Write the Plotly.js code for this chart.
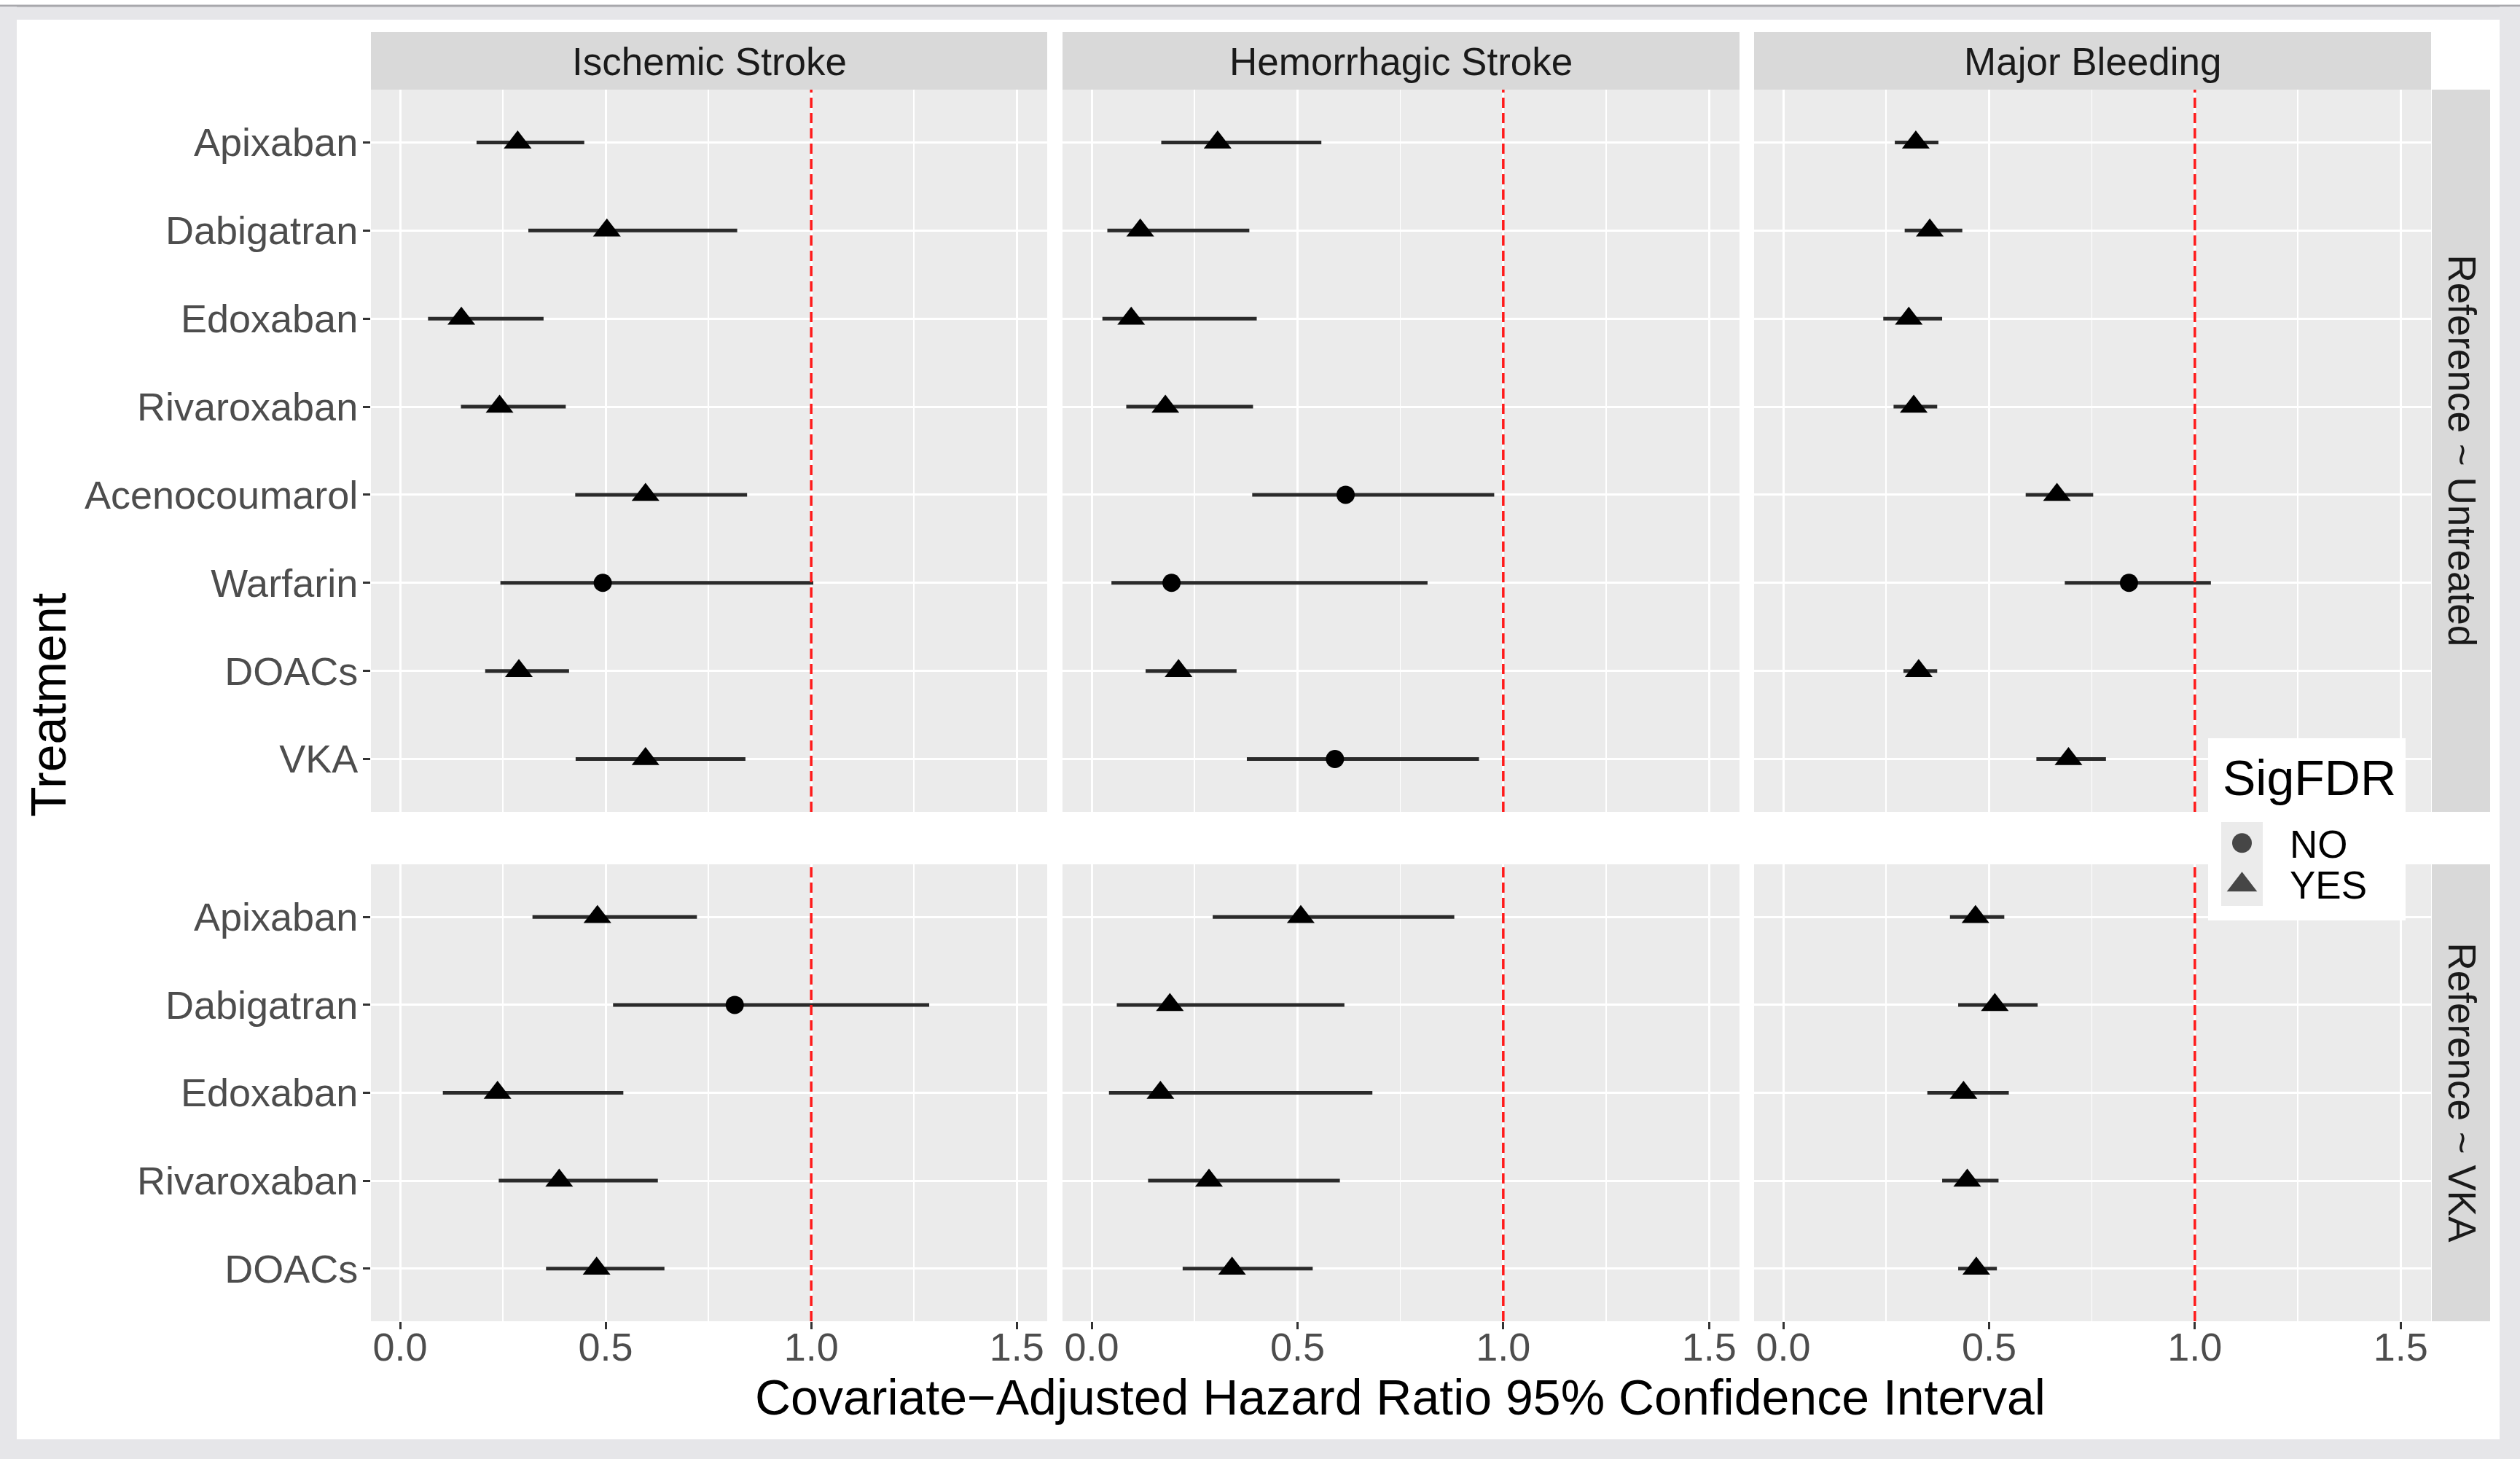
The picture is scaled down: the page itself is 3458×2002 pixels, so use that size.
<!DOCTYPE html>
<html><head><meta charset="utf-8">
<script src="https://cdn.plot.ly/plotly-3.0.1.min.js"></script>
<style>html,body{margin:0;padding:0;background:#fff;}#chart{width:3458px;height:2002px;}</style>
</head><body><div id="chart"></div>
<script>
// ---------- DATA ----------
const outcomes = ['Ischemic Stroke', 'Hemorrhagic Stroke', 'Major Bleeding'];
const references = ['Reference ~ Untreated', 'Reference ~ VKA'];
const drugsUntreated = ['Apixaban', 'Dabigatran', 'Edoxaban', 'Rivaroxaban', 'Acenocoumarol', 'Warfarin', 'DOACs', 'VKA'];
const drugsVKA = ['Apixaban', 'Dabigatran', 'Edoxaban', 'Rivaroxaban', 'DOACs'];
const sigLevels = ['NO', 'YES'];
const refLineValue = 1.0;
const xTickLabels = ['0.0', '0.5', '1.0', '1.5'];

// Reference ~ Untreated
const hrUntrIschemic  = [0.286, 0.503, 0.149, 0.242, 0.597, 0.493, 0.289, 0.597];
const loUntrIschemic  = [0.186, 0.312, 0.068, 0.148, 0.426, 0.244, 0.207, 0.427];
const hiUntrIschemic  = [0.448, 0.820, 0.349, 0.403, 0.844, 1.005, 0.411, 0.840];
const sigUntrIschemic = ['YES', 'YES', 'YES', 'YES', 'YES', 'NO', 'YES', 'YES'];

const hrUntrHemorrhagic  = [0.306, 0.118, 0.096, 0.179, 0.617, 0.194, 0.211, 0.591];
const loUntrHemorrhagic  = [0.169, 0.038, 0.026, 0.084, 0.390, 0.048, 0.131, 0.377];
const hiUntrHemorrhagic  = [0.558, 0.383, 0.401, 0.392, 0.978, 0.816, 0.352, 0.941];
const sigUntrHemorrhagic = ['YES', 'YES', 'YES', 'YES', 'NO', 'NO', 'YES', 'NO'];

const hrUntrBleeding  = [0.322, 0.356, 0.305, 0.317, 0.665, 0.840, 0.329, 0.693];
const loUntrBleeding  = [0.271, 0.295, 0.243, 0.268, 0.589, 0.684, 0.292, 0.615];
const hiUntrBleeding  = [0.377, 0.435, 0.386, 0.374, 0.753, 1.039, 0.374, 0.784];
const sigUntrBleeding = ['YES', 'YES', 'YES', 'YES', 'YES', 'NO', 'YES', 'YES'];

// Reference ~ VKA
const hrVkaIschemic  = [0.480, 0.814, 0.237, 0.387, 0.478];
const loVkaIschemic  = [0.322, 0.518, 0.104, 0.240, 0.355];
const hiVkaIschemic  = [0.722, 1.287, 0.543, 0.627, 0.643];
const sigVkaIschemic = ['YES', 'NO', 'YES', 'YES', 'YES'];

const hrVkaHemorrhagic  = [0.508, 0.190, 0.167, 0.285, 0.341];
const loVkaHemorrhagic  = [0.294, 0.061, 0.042, 0.137, 0.221];
const hiVkaHemorrhagic  = [0.881, 0.614, 0.682, 0.603, 0.537];
const sigVkaHemorrhagic = ['YES', 'YES', 'YES', 'YES', 'YES'];

const hrVkaBleeding  = [0.467, 0.514, 0.438, 0.447, 0.469];
const loVkaBleeding  = [0.405, 0.425, 0.350, 0.386, 0.425];
const hiVkaBleeding  = [0.537, 0.618, 0.548, 0.523, 0.519];
const sigVkaBleeding = ['YES', 'YES', 'YES', 'YES', 'YES'];

// ---------- LAYOUT HELPERS ----------
const W = 3458, H = 2002;
const px = v => v / W;
const py = v => 1 - v / H;
const FONT = 'Liberation Sans, Arial, Helvetica, sans-serif';

const colX = [[509, 1437], [1458, 2387], [2407, 3336]];
const rowY = [[123, 1114], [1186, 1813]];

const panels = [
  {row: 0, col: 0, drugs: drugsUntreated, hr: hrUntrIschemic, lo: loUntrIschemic, hi: hiUntrIschemic, sig: sigUntrIschemic},
  {row: 0, col: 1, drugs: drugsUntreated, hr: hrUntrHemorrhagic, lo: loUntrHemorrhagic, hi: hiUntrHemorrhagic, sig: sigUntrHemorrhagic},
  {row: 0, col: 2, drugs: drugsUntreated, hr: hrUntrBleeding, lo: loUntrBleeding, hi: hiUntrBleeding, sig: sigUntrBleeding},
  {row: 1, col: 0, drugs: drugsVKA, hr: hrVkaIschemic, lo: loVkaIschemic, hi: hiVkaIschemic, sig: sigVkaIschemic},
  {row: 1, col: 1, drugs: drugsVKA, hr: hrVkaHemorrhagic, lo: loVkaHemorrhagic, hi: hiVkaHemorrhagic, sig: sigVkaHemorrhagic},
  {row: 1, col: 2, drugs: drugsVKA, hr: hrVkaBleeding, lo: loVkaBleeding, hi: hiVkaBleeding, sig: sigVkaBleeding}
];

const symbolFor = {NO: 'circle', YES: 'triangle-up'};
const sizeFor = {NO: 25, YES: 33};

const traces = [];
const layout = {
  width: W, height: H,
  margin: {l: 0, r: 0, t: 0, b: 0, pad: 0},
  paper_bgcolor: '#ffffff',
  plot_bgcolor: '#ebebeb',
  font: {family: FONT, color: '#4d4d4d', size: 54},
  showlegend: false,
  shapes: [],
  annotations: []
};

panels.forEach((p, i) => {
  const k = i + 1;
  const xa = 'x' + (k === 1 ? '' : k);
  const ya = 'y' + (k === 1 ? '' : k);
  sigLevels.forEach(level => {
    const idx = p.hr.map((_, j) => j).filter(j => p.sig[j] === level);
    traces.push({
      type: 'scatter', mode: 'markers',
      x: idx.map(j => p.hr[j]),
      y: idx.map(j => p.drugs[j]),
      xaxis: xa, yaxis: ya,
      name: level, showlegend: false,
      marker: {symbol: symbolFor[level], size: sizeFor[level], color: '#000000', line: {width: 0}},
      error_x: {
        type: 'data', symmetric: false,
        array: idx.map(j => p.hi[j] - p.hr[j]),
        arrayminus: idx.map(j => p.hr[j] - p.lo[j]),
        thickness: 5, width: 0, color: '#2a2a2a'
      },
      cliponaxis: false,
      hoverinfo: 'x+y'
    });
  });
  const bottom = p.row === 1;
  layout['xaxis' + (k === 1 ? '' : k)] = {
    domain: [px(colX[p.col][0]), px(colX[p.col][1])],
    anchor: ya,
    range: [-0.0709, 1.574],
    tickmode: 'array',
    tickvals: xTickLabels.map(Number),
    ticktext: xTickLabels,
    showgrid: true, gridcolor: '#ffffff', gridwidth: 3,
    minor: {tickmode: 'array', tickvals: [0.25, 0.75, 1.25], showgrid: true, gridcolor: '#ffffff', gridwidth: 1.5, ticks: ''},
    zeroline: false, showline: false,
    showticklabels: bottom,
    ticks: bottom ? 'outside' : '',
    ticklen: 10, tickwidth: 3, tickcolor: '#333333',
    ticklabelstandoff: -22,
    tickfont: {family: FONT, size: 54, color: '#4d4d4d'},
    fixedrange: true
  };
  const n = p.drugs.length;
  layout['yaxis' + (k === 1 ? '' : k)] = {
    domain: [py(rowY[p.row][1]), py(rowY[p.row][0])],
    anchor: xa,
    type: 'category',
    categoryorder: 'array',
    categoryarray: p.drugs,
    range: [n - 0.4, -0.6],
    showgrid: true, gridcolor: '#ffffff', gridwidth: 3,
    zeroline: false, showline: false,
    showticklabels: p.col === 0,
    ticks: p.col === 0 ? 'outside' : '',
    ticklen: 10, tickwidth: 3, tickcolor: '#333333',
    ticklabelstandoff: -4,
    tickfont: {family: FONT, size: 54, color: '#4d4d4d'},
    fixedrange: true
  };
  // reference line at HR = 1
  layout.shapes.push({
    type: 'line', xref: xa, yref: ya + ' domain',
    x0: refLineValue, x1: refLineValue, y0: 0, y1: 1,
    line: {color: '#ff1a1a', width: 3.5, dash: '14px,7px'}, layer: 'above'
  });
});

// ---------- outer frame ----------
const frameColor = '#e6e6e9';
layout.shapes.push(
  {type: 'rect', xref: 'paper', yref: 'paper', x0: 0, x1: 1, y0: py(27), y1: py(9), fillcolor: frameColor, line: {width: 0}, layer: 'below'},
  {type: 'line', xref: 'paper', yref: 'paper', x0: 0, x1: 1, y0: py(8), y1: py(8), line: {color: '#a8a8ac', width: 3}, layer: 'below'},
  {type: 'rect', xref: 'paper', yref: 'paper', x0: 0, x1: 1, y0: 0, y1: py(1975), fillcolor: frameColor, line: {width: 0}, layer: 'below'},
  {type: 'rect', xref: 'paper', yref: 'paper', x0: 0, x1: px(23), y0: 0, y1: py(9), fillcolor: frameColor, line: {width: 0}, layer: 'below'},
  {type: 'rect', xref: 'paper', yref: 'paper', x0: px(3430), x1: 1, y0: 0, y1: py(9), fillcolor: frameColor, line: {width: 0}, layer: 'below'}
);

// ---------- facet strips ----------
outcomes.forEach((o, c) => {
  layout.shapes.push({type: 'rect', xref: 'paper', yref: 'paper',
    x0: px(colX[c][0]), x1: px(colX[c][1]), y0: py(123), y1: py(44),
    fillcolor: '#d9d9d9', line: {width: 0}, layer: 'below'});
  layout.annotations.push({xref: 'paper', yref: 'paper', x: px((colX[c][0] + colX[c][1]) / 2), y: py(84),
    text: o, showarrow: false, xanchor: 'center', yanchor: 'middle',
    font: {family: FONT, size: 53, color: '#1a1a1a'}});
});
references.forEach((r, ri) => {
  layout.shapes.push({type: 'rect', xref: 'paper', yref: 'paper',
    x0: px(3337), x1: px(3417), y0: py(rowY[ri][1]), y1: py(rowY[ri][0]),
    fillcolor: '#d9d9d9', line: {width: 0}, layer: 'below'});
  layout.annotations.push({xref: 'paper', yref: 'paper', x: px(3378), y: py((rowY[ri][0] + rowY[ri][1]) / 2),
    text: r, showarrow: false, textangle: 90, xanchor: 'center', yanchor: 'middle',
    font: {family: FONT, size: 53, color: '#1a1a1a'}});
});

// ---------- axis titles ----------
layout.annotations.push({xref: 'paper', yref: 'paper', x: px(1922), y: py(1917),
  text: 'Covariate\u2212Adjusted Hazard Ratio 95% Confidence Interval', showarrow: false,
  xanchor: 'center', yanchor: 'middle', font: {family: FONT, size: 68, color: '#000000'}});
layout.annotations.push({xref: 'paper', yref: 'paper', x: px(66), y: py(968),
  text: 'Treatment', showarrow: false, textangle: -90,
  xanchor: 'center', yanchor: 'middle', font: {family: FONT, size: 68, color: '#000000'}});

// ---------- legend (SigFDR) ----------
layout.shapes.push({type: 'rect', xref: 'paper', yref: 'paper',
  x0: px(3030), x1: px(3301), y0: py(1263), y1: py(1013),
  fillcolor: '#ffffff', line: {width: 0}, layer: 'below'});
layout.xaxis7 = {domain: [px(3048), px(3105)], anchor: 'y7', range: [-1, 1], visible: false, fixedrange: true};
layout.yaxis7 = {domain: [py(1243), py(1128)], anchor: 'x7', type: 'category', categoryorder: 'array',
  categoryarray: sigLevels, range: [1.5, -0.5], visible: false, fixedrange: true};
traces.push({type: 'scatter', mode: 'markers', xaxis: 'x7', yaxis: 'y7',
  x: sigLevels.map(() => 0), y: sigLevels, showlegend: false, hoverinfo: 'y',
  marker: {symbol: sigLevels.map(s => symbolFor[s]), size: [27, 36], color: '#000000', line: {width: 0}}});
layout.annotations.push({xref: 'paper', yref: 'paper', x: px(3048), y: py(1067), text: 'SigFDR',
  showarrow: false, xanchor: 'left', yanchor: 'middle', font: {family: FONT, size: 68, color: '#000000'}});
sigLevels.forEach((s, i) => {
  layout.annotations.push({xref: 'paper', yref: 'paper', x: px(3140), y: py(i === 0 ? 1158 : 1214), text: s,
    showarrow: false, xanchor: 'left', yanchor: 'middle', font: {family: FONT, size: 53, color: '#000000'}});
});

Plotly.newPlot('chart', traces, layout, {displayModeBar: false, staticPlot: true});
</script>
</body></html>
